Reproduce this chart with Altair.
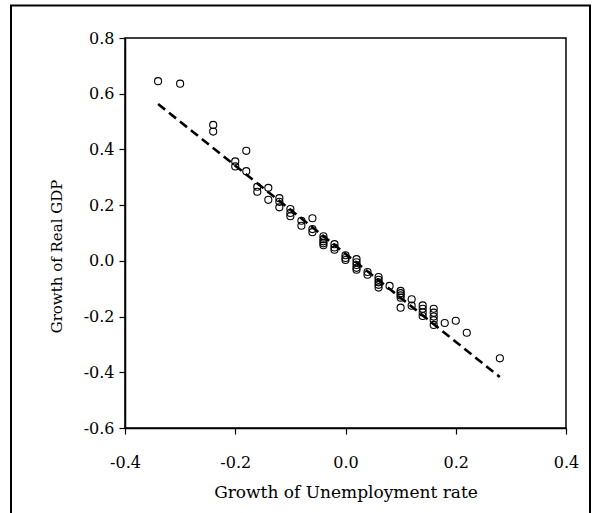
import altair as alt
import pandas as pd

# Scatter data: growth of unemployment rate (x) vs growth of real GDP (y)
unemp = [-0.34, -0.30, -0.24, -0.24, -0.20, -0.20, -0.18, -0.18, -0.16, -0.16,
         -0.14, -0.14, -0.12, -0.12, -0.12, -0.10, -0.10, -0.10, -0.08, -0.08,
         -0.06, -0.06, -0.06, -0.04, -0.04, -0.04, -0.04, -0.04, -0.02, -0.02,
         -0.02, 0.00, 0.00, 0.00, 0.02, 0.02, 0.02, 0.02, 0.02, 0.04,
         0.04, 0.06, 0.06, 0.06, 0.06, 0.06, 0.08, 0.10, 0.10, 0.10,
         0.10, 0.10, 0.12, 0.12, 0.14, 0.14, 0.14, 0.14, 0.16, 0.16,
         0.16, 0.16, 0.16, 0.18, 0.20, 0.22, 0.28]
gdp = [0.645, 0.636, 0.488, 0.464, 0.357, 0.339, 0.395, 0.322, 0.266, 0.248,
       0.262, 0.219, 0.225, 0.212, 0.192, 0.186, 0.172, 0.160, 0.144, 0.126,
       0.153, 0.114, 0.103, 0.088, 0.078, 0.070, 0.063, 0.056, 0.060, 0.048,
       0.040, 0.020, 0.010, 0.003, 0.006, -0.005, -0.015, -0.025, -0.032, -0.040,
       -0.050, -0.058, -0.068, -0.077, -0.086, -0.096, -0.090, -0.108, -0.116, -0.124,
       -0.132, -0.168, -0.138, -0.161, -0.160, -0.172, -0.185, -0.198, -0.172, -0.186,
       -0.200, -0.213, -0.230, -0.223, -0.215, -0.258, -0.350]

# Fitted regression line endpoints
fit_x = [-0.34, 0.28]
fit_y = [0.563, -0.417]

x_ticks = [-0.4, -0.2, 0.0, 0.2, 0.4]
y_ticks = [-0.6, -0.4, -0.2, 0.0, 0.2, 0.4, 0.6, 0.8]

pts = pd.DataFrame({"u": unemp, "g": gdp})
fit = pd.DataFrame({"u": fit_x, "g": fit_y})

FONT = "DejaVu Serif"
lab = "replace(format(datum.value, '.1f'), '\u2212', '-')"

xscale = alt.Scale(domain=[-0.4, 0.4], nice=False, zero=False)
yscale = alt.Scale(domain=[-0.6, 0.8], nice=False, zero=False)

xax = alt.Axis(values=x_ticks, labelExpr=lab, title="Growth of Unemployment rate",
               labelPadding=20, titlePadding=14, titleFontSize=17, labelFlush=False)
yax = alt.Axis(values=y_ticks, labelExpr=lab, title="Growth of Real GDP",
               titlePadding=19, titleY=218, titleFontSize=15, labelFlush=False)

points = alt.Chart(pts).mark_point(shape="circle", filled=False, color="black",
                                   size=50, strokeWidth=1.1, opacity=1).encode(
    x=alt.X("u:Q", scale=xscale, axis=xax),
    y=alt.Y("g:Q", scale=yscale, axis=yax),
)

line = alt.Chart(fit).mark_line(color="black", strokeWidth=2.6,
                                strokeDash=[9, 5]).encode(
    x=alt.X("u:Q", scale=xscale),
    y=alt.Y("g:Q", scale=yscale),
)

frame = alt.Chart(pd.DataFrame({"a": [0]})).mark_rect(
    fill=None, stroke="black", strokeWidth=2, clip=False).encode(
    x=alt.value(-114), x2=alt.value(465), y=alt.value(-32.5), y2=alt.value(520))

chart = alt.layer(frame, line, points).properties(
    width=441, height=390,
    autosize=alt.AutoSizeParams(type="none"),
    padding={"left": 125, "top": 38, "right": 34, "bottom": 85},
    background="white",
).configure_view(stroke="black", strokeWidth=1.5).configure_axis(
    grid=False, domainColor="black", domainWidth=1.5, tickColor="black",
    tickSize=6, tickWidth=1.2, labelFont=FONT, labelFontSize=16,
    labelColor="black", titleFont=FONT, titleFontSize=16,
    titleFontWeight="normal", titleColor="black", labelPadding=5,
)

chart.save("out.html", embed_options={"renderer": "svg", "actions": False})
